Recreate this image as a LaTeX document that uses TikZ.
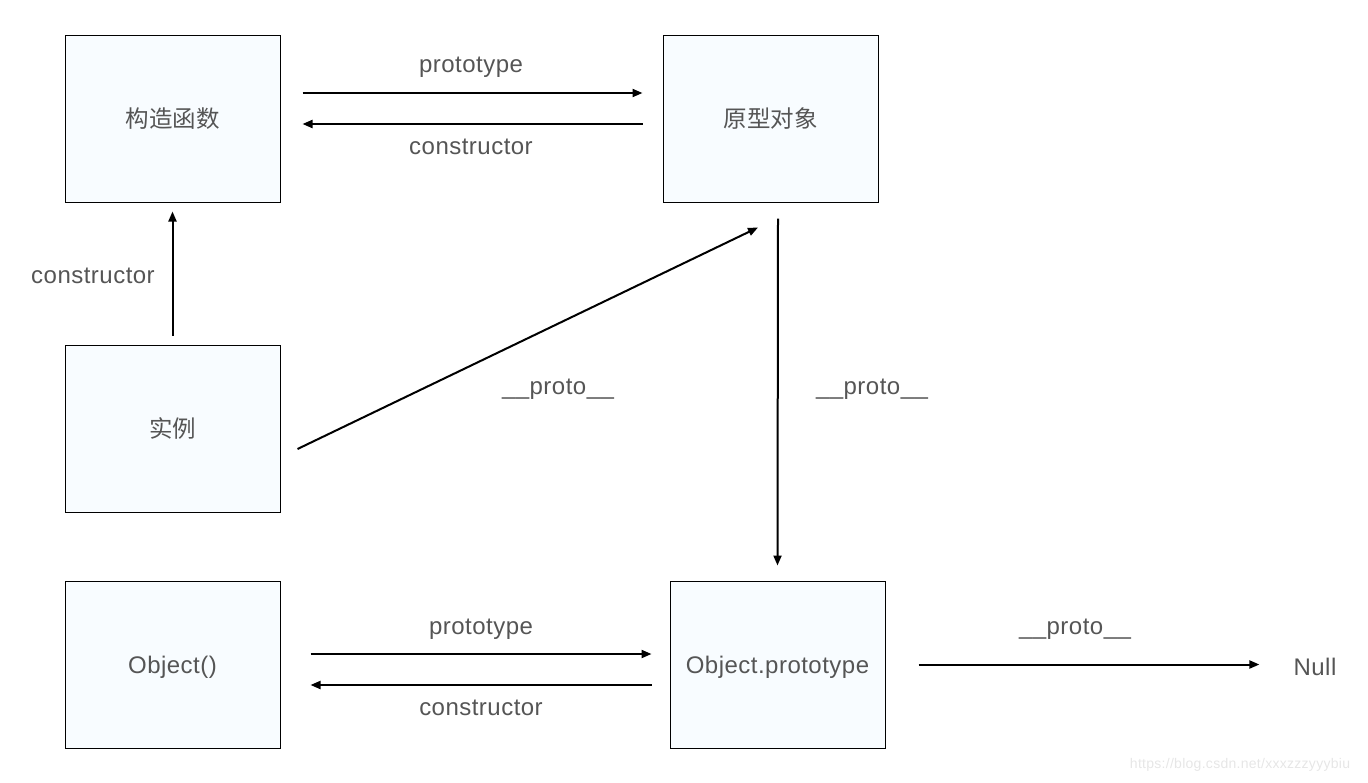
\documentclass[tikz,border=0pt]{standalone}
\usepackage{fontspec}
\setmainfont[LetterSpace=2]{Liberation Sans}
\newfontfamily\cjk{Noto Sans CJK SC}
\usetikzlibrary{arrows.meta,calc}
\definecolor{ink}{RGB}{85,85,85}
\definecolor{boxfill}{RGB}{248,252,255}
\definecolor{wmark}{RGB}{230,230,230}
\tikzset{
  objbox/.style={draw=black,line width=1pt,fill=boxfill,minimum width=215pt,minimum height=167pt,inner sep=0pt,text=ink,text height=17pt,text depth=0pt,font=\fontsize{24}{28}\selectfont},
  cnbox/.style={objbox,text height=18pt,font=\cjk\fontsize{23.5}{28}\selectfont},
  flow/.style={-{Triangle[length=10pt,width=8pt]},line width=2pt},
  lab/.style={text=ink,font=\fontsize{24}{28}\selectfont,text height=17pt,text depth=0pt,inner sep=0pt},
}
\begin{document}
\begin{tikzpicture}[x=1pt,y=-1pt]
\useasboundingbox (0,0) rectangle (1368,782);
\node[cnbox] (ctor) at (172.5,118.5) {构造函数};
\node[cnbox] (proto) at (770.5,118.5) {原型对象};
\node[cnbox] (inst) at (172.5,428.5) {实例};
\node[objbox] (obj) at (172.5,664.5) {Object()};
\node[objbox] (objproto) at (777.5,664.5) {Object.prototype};
\node[lab] (null) at (1315,667) {Null};
\draw[flow] ([xshift=22pt,yshift=25.5pt]ctor.east) -- ([xshift=-20pt,yshift=25.5pt]proto.west);
\draw[flow] ([xshift=-20pt,yshift=-5.5pt]proto.west) -- ([xshift=22pt,yshift=-5.5pt]ctor.east);
\node[lab] (ctorproto) at (471,64) {prototype};
\node[lab] (protoctor) at (471,146) {constructor};
\draw[flow] ([yshift=9pt]inst.north) -- ([yshift=-9pt]ctor.south);
\node[lab] (instctor) at (93,275) {constructor};
\draw[flow] ([xshift=17pt,yshift=-20.5pt]inst.east) -- ([xshift=-12.5pt,yshift=-25pt]proto.south);
\node[lab] (instproto) at (558,386) {\_\_proto\_\_};
\draw[flow] ([xshift=7.5pt,yshift=-16pt]proto.south) -- ([yshift=15pt]objproto.north);
\node[lab] (protoproto) at (872,386) {\_\_proto\_\_};
\draw[flow] ([xshift=30pt,yshift=10.5pt]obj.east) -- ([xshift=-18pt,yshift=10.5pt]objproto.west);
\draw[flow] ([xshift=-18pt,yshift=-20.5pt]objproto.west) -- ([xshift=30pt,yshift=-20.5pt]obj.east);
\node[lab] (objtop) at (481,626) {prototype};
\node[lab] (objctor) at (481,707) {constructor};
\draw[flow] ([xshift=33pt]objproto.east) -- ($(null.west |- objproto.east)+(-34,0)$);
\node[lab] (nullproto) at (1075,626) {\_\_proto\_\_};
\node[text=wmark,font=\fontsize{14}{16}\selectfont,inner sep=0pt] (wm) at (1240,765) {https://blog.csdn.net/xxxzzzyyybiu};
\end{tikzpicture}
\end{document}
